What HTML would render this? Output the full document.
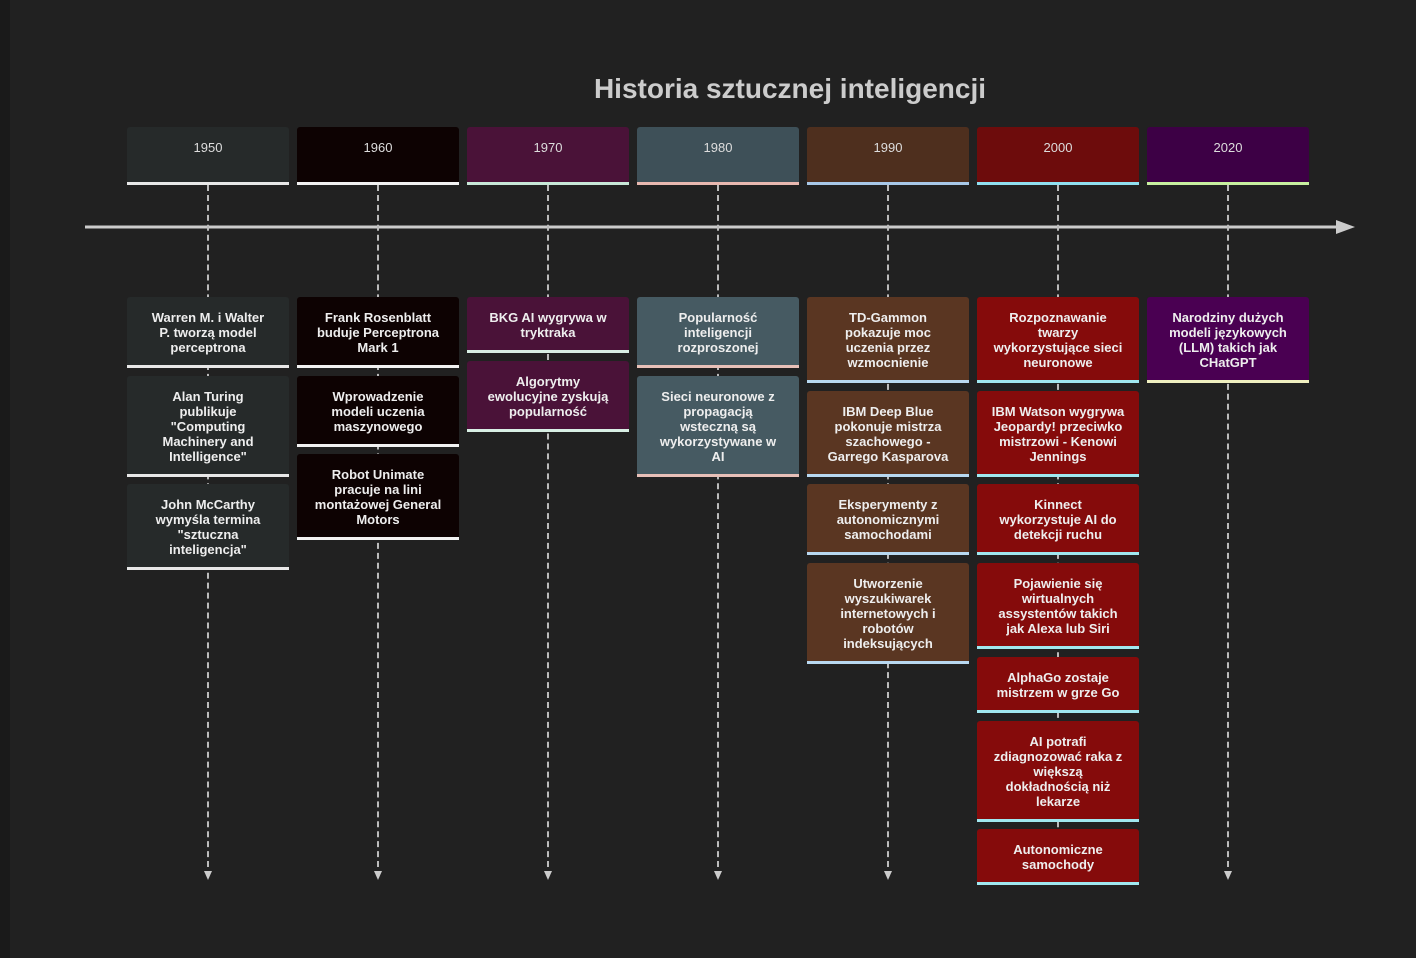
<!DOCTYPE html>
<html><head><meta charset="utf-8"><style>
body{margin:0;width:1416px;height:958px;background:#212121;position:relative;overflow:hidden;font-family:"Liberation Sans",sans-serif;}
.strip{position:absolute;left:0;top:0;width:10px;height:958px;background:#1a1a1a}
.title{position:absolute;left:490px;width:600px;top:73px;text-align:center;font-size:28px;font-weight:bold;color:#ccc;font-family:"Liberation Sans",sans-serif}
.hd,.cd{position:absolute;width:162px;box-sizing:border-box;border-radius:3px 3px 0 0;text-align:center;color:#eee}
.hd{top:127px;height:58px;padding-top:13px;font-size:13px;color:#ddd}
.cd{padding-top:13px;font-size:13px;line-height:15px;font-weight:bold;white-space:nowrap}
.dash{position:absolute;width:0;border-left:2px dashed #bbb;top:185px;height:692px}
.ah{position:absolute;top:871px;width:0;height:0;border-left:4px solid transparent;border-right:4px solid transparent;border-top:9px solid #ccc}
</style></head><body>
<div class="strip"></div>
<div class="title">Historia sztucznej inteligencji</div>
<svg style="position:absolute;left:0;top:0" width="1416" height="958"><line x1="85" y1="227" x2="1338" y2="227" stroke="#ccc" stroke-width="3"/><polygon points="1336,220 1355,227 1336,234" fill="#ccc"/></svg>
<div id="root"></div>
<script>
const cols=[
 {y:"1950",h:"#262a2a",c:"#262a2a",l:"#e8e8e8",lc:"#e8e8e8",items:["Warren M. i Walter|P. tworzą model|perceptrona","Alan Turing|publikuje|\"Computing|Machinery and|Intelligence\"","John McCarthy|wymyśla termina|\"sztuczna|inteligencja\""]},
 {y:"1960",h:"#0d0202",c:"#0d0202",l:"#f2f2f2",lc:"#f2f2f2",items:["Frank Rosenblatt|buduje Perceptrona|Mark 1","Wprowadzenie|modeli uczenia|maszynowego","Robot Unimate|pracuje na lini|montażowej General|Motors"]},
 {y:"1970",h:"#4a1238",c:"#4a1238",l:"#c8e8d8",lc:"#d8efe4",items:["BKG AI wygrywa w|tryktraka","Algorytmy|ewolucyjne zyskują|popularność"]},
 {y:"1980",h:"#3e5058",c:"#465a62",l:"#e8b8b0",lc:"#e8c0b8",items:["Popularność|inteligencji|rozproszonej","Sieci neuronowe z|propagacją|wsteczną są|wykorzystywane w|AI"]},
 {y:"1990",h:"#4e2f1e",c:"#5a3622",l:"#a8c8e8",lc:"#b8d8f0",items:["TD-Gammon|pokazuje moc|uczenia przez|wzmocnienie","IBM Deep Blue|pokonuje mistrza|szachowego -|Garrego Kasparova","Eksperymenty z|autonomicznymi|samochodami","Utworzenie|wyszukiwarek|internetowych i|robotów|indeksujących"]},
 {y:"2000",h:"#6d0c0c",c:"#850b0b",l:"#90e0f0",lc:"#a0e8f0",items:["Rozpoznawanie|twarzy|wykorzystujące sieci|neuronowe","IBM Watson wygrywa|Jeopardy! przeciwko|mistrzowi - Kenowi|Jennings","Kinnect|wykorzystuje AI do|detekcji ruchu","Pojawienie się|wirtualnych|assystentów takich|jak Alexa lub Siri","AlphaGo zostaje|mistrzem w grze Go","AI potrafi|zdiagnozować raka z|większą|dokładnością niż|lekarze","Autonomiczne|samochody"]},
 {y:"2020",h:"#3d0045",c:"#4a0052",l:"#c8f0a0",lc:"#f0f0c0",items:["Narodziny dużych|modeli językowych|(LLM) takich jak|CHatGPT"]}
];
let html="";
cols.forEach((c,i)=>{
 const x=127+170*i, cx=x+81;
 html+=`<div class="dash" style="left:${cx-1}px"></div><div class="ah" style="left:${cx-4}px"></div>`;
 html+=`<div class="hd" style="left:${x}px;background:${c.h};border-bottom:3px solid ${c.l}">${c.y}</div>`;
 let t=297;
 c.items.forEach(s=>{const parts=s.split("|");const n=parts.length;const h=26+15*n;
  html+=`<div class="cd" style="left:${x}px;top:${Math.round(t)}px;height:${h}px;background:${c.c};border-bottom:3px solid ${c.lc}">${parts.join("<br>")}</div>`;
  t+=h+7.7;});
});
document.getElementById("root").innerHTML=html;
</script>
</body></html>
